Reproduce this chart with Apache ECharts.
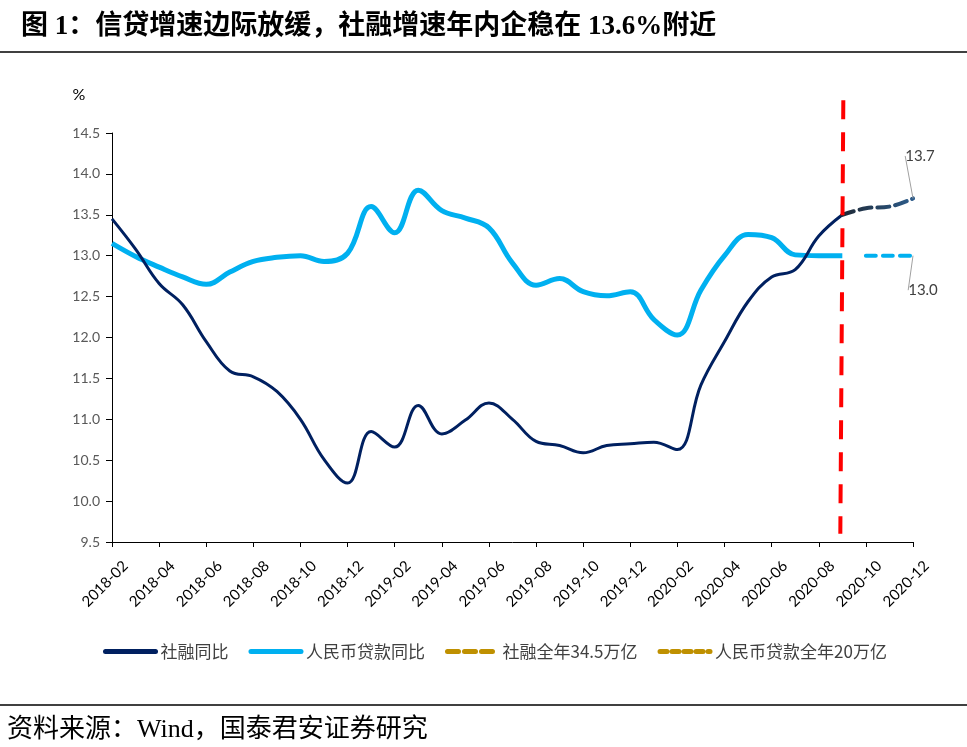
<!DOCTYPE html>
<html>
<head>
<meta charset="utf-8">
<title>信贷与社融增速</title>
<script src="https://cdn.jsdelivr.net/npm/echarts@6/dist/echarts.min.js"></script>
<style>
  html, body { margin: 0; padding: 0; background: #fff; }
  #chart { width: 967px; height: 747px; }
</style>
</head>
<body>
<div id="chart"></div>
<script>
// 月份（横轴）
var months = [
  "2018-02", "2018-03", "2018-04", "2018-05", "2018-06", "2018-07", "2018-08",
  "2018-09", "2018-10", "2018-11", "2018-12", "2019-01", "2019-02", "2019-03",
  "2019-04", "2019-05", "2019-06", "2019-07", "2019-08", "2019-09", "2019-10",
  "2019-11", "2019-12", "2020-01", "2020-02", "2020-03", "2020-04", "2020-05",
  "2020-06", "2020-07", "2020-08", "2020-09", "2020-10", "2020-11", "2020-12"
];
// 社融同比（实际）
var shrongYoy = [
  13.45, 13.08, 12.66, 12.4, 11.95, 11.59, 11.52, 11.34, 11.0, 10.51, 10.22,
  10.85, 10.66, 11.17, 10.82, 10.99, 11.2, 11.0, 10.73, 10.68, 10.59, 10.68,
  10.70, 10.72, 10.63, 11.42, 11.95, 12.44, 12.74, 12.83, 13.24, 13.5,
  null, null, null
];
// 人民币贷款同比（实际）
var loanYoy = [
  13.15, 12.99, 12.86, 12.74, 12.65, 12.8, 12.93, 12.98, 13.0, 12.93, 13.03,
  13.6, 13.28, 13.8, 13.55, 13.46, 13.34, 12.91, 12.64, 12.72, 12.56, 12.51,
  12.56, 12.22, 12.03, 12.58, 13.0, 13.26, 13.22, 13.01, 13.0, 13.0,
  null, null, null
];
// 预测：社融全年34.5万亿
var shrongForecast = [
  null, null, null, null, null, null, null, null, null, null, null, null,
  null, null, null, null, null, null, null, null, null, null, null, null,
  null, null, null, null, null, null, null, 13.5, 13.58, 13.6, 13.7
];
// 预测：人民币贷款全年20万亿
var loanForecast = [
  null, null, null, null, null, null, null, null, null, null, null, null,
  null, null, null, null, null, null, null, null, null, null, null, null,
  null, null, null, null, null, null, null, null, 13.0, 13.0, 13.0
];
var seriesNames = ["社融同比", "人民币贷款同比", "社融全年34.5万亿", "人民币贷款全年20万亿"];
var cutMonth = "2020-09";   // 红色竖线位置
var cutRange = [14.9, 9.6]; // 红线上下端（纵轴数值）

var numFont = "Lato, 'Noto Sans', sans-serif";
var cjkFont = "'Noto Sans CJK SC', sans-serif";
var serifFont = "'Liberation Serif', 'Noto Sans CJK SC', serif";

// 只给最后一个点加数据标签
function lastLabeled(arr, pos) {
  var last = arr.length - 1;
  return arr.map(function (v, i) {
    if (i !== last) return v;
    return {
      value: v,
      label: {
        show: true,
        position: pos,
        formatter: function (p) { return p.value.toFixed(1); },
        fontFamily: numFont,
        fontSize: 15,
        color: "#404040"
      }
    };
  });
}

var chart = echarts.init(document.getElementById("chart"));
chart.setOption({
  animation: false,
  title: [
    {
      text: "图 1：信贷增速边际放缓，社融增速年内企稳在 13.6%附近",
      left: 16,
      top: 9,
      textStyle: { fontFamily: serifFont, fontSize: 27, fontWeight: "bold", color: "#000" }
    },
    {
      text: "资料来源：Wind，国泰君安证券研究",
      left: 2,
      top: 712,
      textStyle: { fontFamily: serifFont, fontSize: 26, fontWeight: "normal", color: "#000" }
    }
  ],
  grid: { left: 112, right: 54, top: 133, bottom: 205 },
  legend: {
    left: 98,
    top: 638,
    itemWidth: 50,
    itemHeight: 14,
    itemGap: 20,
    textStyle: { fontFamily: cjkFont, fontSize: 17, color: "#404040" },
    itemStyle: { opacity: 0 },
    data: [
      { name: seriesNames[0], itemStyle: { opacity: 0 }, lineStyle: { color: "#002060", width: 5, cap: "round", type: "solid" } },
      { name: seriesNames[1], itemStyle: { opacity: 0 }, lineStyle: { color: "#00B0F0", width: 5, cap: "round", type: "solid" } },
      { name: seriesNames[2], itemStyle: { opacity: 0 }, lineStyle: { color: "#BF9000", width: 5, cap: "round", type: [11, 6] } },
      { name: seriesNames[3], itemStyle: { opacity: 0 }, lineStyle: { color: "#BF9000", width: 5, cap: "round", type: [7, 5] } }
    ]
  },
  xAxis: {
    type: "category",
    data: months,
    boundaryGap: false,
    axisLine: { lineStyle: { color: "#000", width: 1 } },
    axisTick: { interval: 1, length: 5, lineStyle: { color: "#000" } },
    axisLabel: {
      interval: 1,
      rotate: 45,
      margin: 8,
      formatter: function (v) { return "{m|" + v + "}"; },
      rich: {
        m: { padding: [38, 0, 0, 0], fontFamily: numFont, fontSize: 15, color: "#000" }
      }
    },
    splitLine: { show: false }
  },
  yAxis: {
    type: "value",
    min: 9.5,
    max: 14.5,
    interval: 0.5,
    name: "%",
    nameLocation: "end",
    nameGap: 30,
    nameTextStyle: { fontFamily: numFont, fontSize: 16, color: "#000", padding: [0, 66, 0, 0] },
    axisLine: { show: true, lineStyle: { color: "#000", width: 1 } },
    axisTick: { show: true, length: 6, lineStyle: { color: "#000" } },
    axisLabel: {
      margin: 12,
      fontFamily: numFont,
      fontSize: 14,
      color: "#595959",
      formatter: function (v) { return v.toFixed(1); }
    },
    splitLine: { show: false }
  },
  series: [
    {
      name: seriesNames[0],
      type: "line",
      data: shrongYoy,
      smooth: 0.4,
      symbol: "none",
      lineStyle: { color: "#002060", width: 3 },
      itemStyle: { color: "#002060" },
      z: 3
    },
    {
      name: seriesNames[1],
      type: "line",
      data: loanYoy,
      smooth: 0.4,
      symbol: "none",
      lineStyle: { color: "#00B0F0", width: 5 },
      itemStyle: { color: "#00B0F0" },
      z: 2
    },
    {
      name: seriesNames[2],
      type: "line",
      data: lastLabeled(shrongForecast, "top"),
      smooth: 0.4,
      symbol: "circle",
      symbolSize: 0,
      lineStyle: {
        width: 4,
        type: [12, 6],
        cap: "round",
        color: {
          type: "linear", x: 0, y: 0, x2: 1, y2: 0,
          colorStops: [{ offset: 0, color: "#1E2733" }, { offset: 1, color: "#2E5E8E" }]
        }
      },
      itemStyle: { color: "#2E5E8E" },
      labelLayout: { dx: 7, dy: -30 },
      labelLine: { show: true, lineStyle: { color: "#A0A0A0", width: 1 } },
      z: 4
    },
    {
      name: seriesNames[3],
      type: "line",
      data: lastLabeled(loanForecast, "bottom"),
      smooth: 0.4,
      symbol: "circle",
      symbolSize: 0,
      lineStyle: { color: "#00B0F0", width: 4, type: [10, 7], cap: "round" },
      itemStyle: { color: "#00B0F0" },
      labelLayout: { dx: 10, dy: 22 },
      labelLine: { show: true, lineStyle: { color: "#A0A0A0", width: 1 } },
      z: 4
    }
  ]
});

// 红色竖虚线（超出坐标范围，用轴换算位置后画）与上下分隔线
var cutTop = chart.convertToPixel({ xAxisIndex: 0, yAxisIndex: 0 }, [cutMonth, cutRange[0]]);
var cutBot = chart.convertToPixel({ xAxisIndex: 0, yAxisIndex: 0 }, [cutMonth, cutRange[1]]);
chart.setOption({
  graphic: [
    { type: "line", shape: { x1: 0, y1: 52, x2: 967, y2: 52 }, style: { stroke: "#000", lineWidth: 1.5 } },
    { type: "line", shape: { x1: 0, y1: 705, x2: 967, y2: 705 }, style: { stroke: "#000", lineWidth: 1.5 } },
    {
      type: "line",
      z: 10,
      shape: { x1: cutTop[0] + 1, y1: cutTop[1], x2: cutBot[0] - 2, y2: cutBot[1] },
      style: { stroke: "#FF0000", lineWidth: 4, lineDash: [19, 13] }
    }
  ]
});
</script>
</body>
</html>
